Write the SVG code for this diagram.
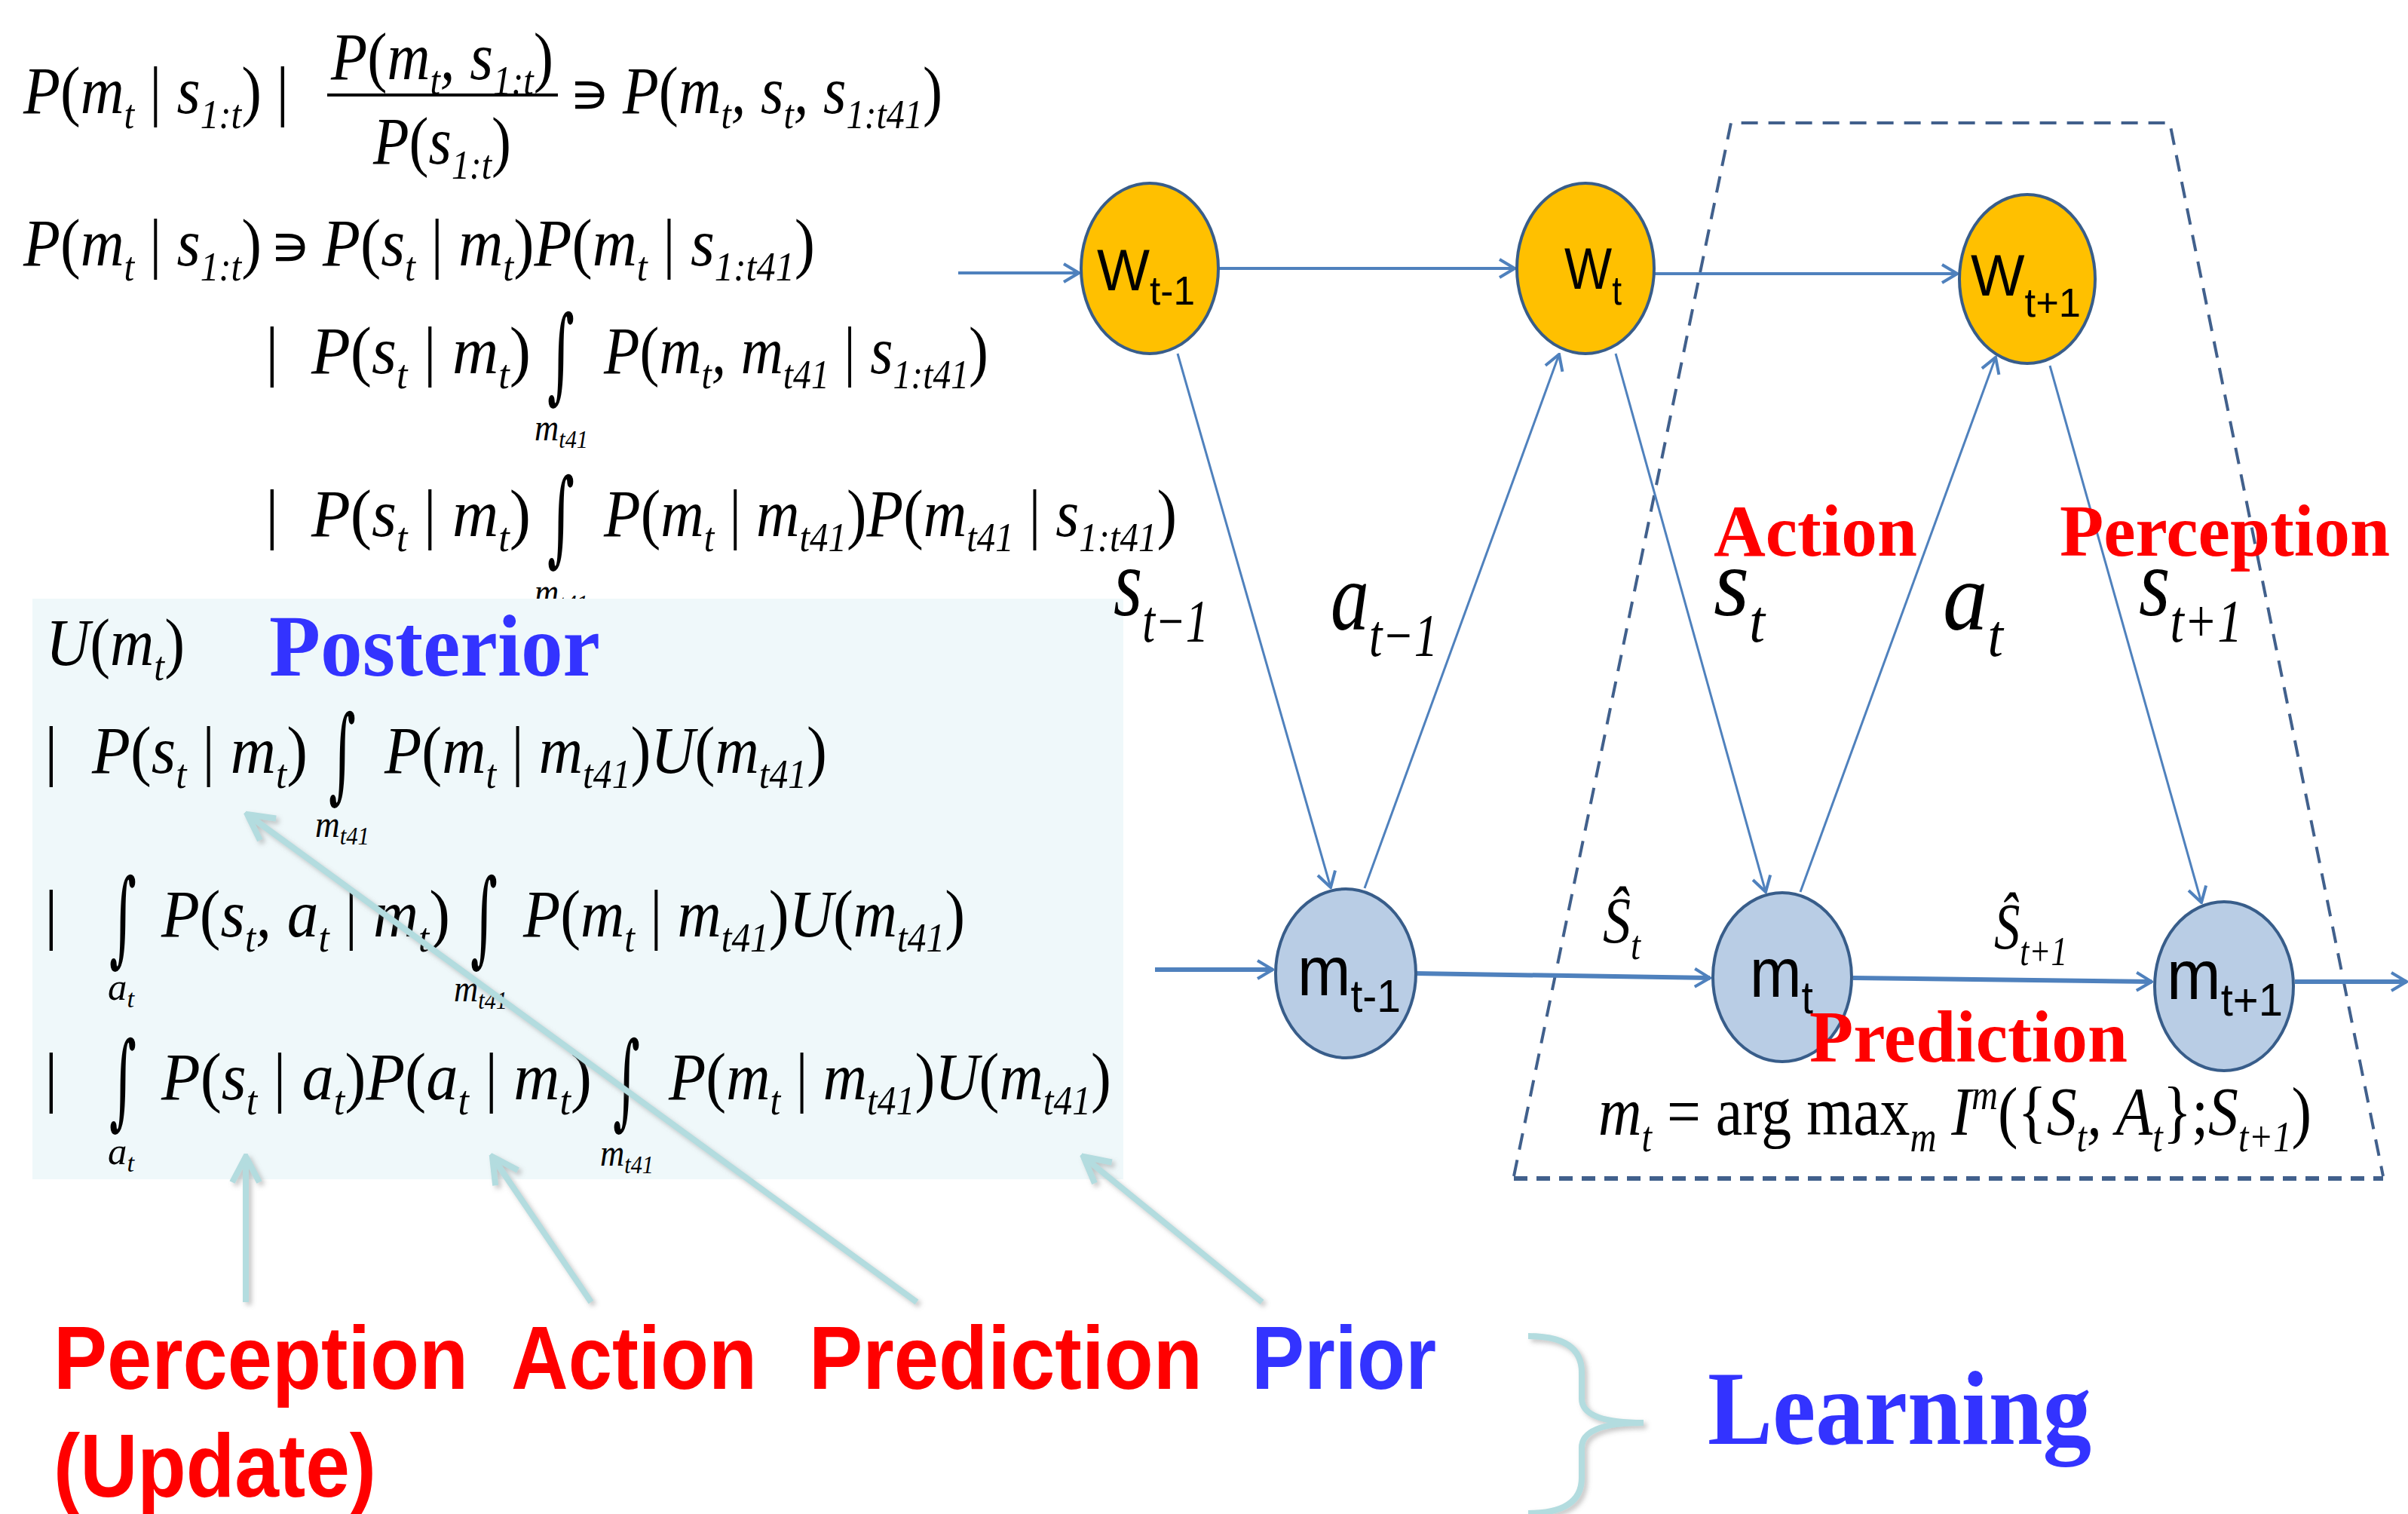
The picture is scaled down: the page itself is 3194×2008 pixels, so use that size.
<svg xmlns="http://www.w3.org/2000/svg" width="3194" height="2008" viewBox="0 0 3194 2008">
<style>
.eq{font-family:"Liberation Serif","Times New Roman",serif;font-style:italic;font-size:88px;fill:#000}
.eu{font-family:"Liberation Serif","Times New Roman",serif;font-size:88px;fill:#000}
.sb{font-size:54px}
.s2{font-size:50px}
.s3{font-size:34px}
.sym{font-family:"DejaVu Sans",sans-serif;font-size:76px;fill:#000}
.int{font-family:"DejaVu Serif",serif;font-size:138px;fill:#000}
.nt{font-family:"Liberation Sans",Arial,sans-serif;font-size:78px;fill:#000}
.ns{font-size:54px}
.mt{font-family:"Liberation Sans",Arial,sans-serif;font-size:92px;fill:#000}
.ms{font-size:62px}
.gl{font-family:"Liberation Serif","Times New Roman",serif;font-style:italic;font-size:130px;fill:#000}
.gs{font-size:80px}
.hl{font-family:"Liberation Serif","Times New Roman",serif;font-style:italic;font-size:86px;fill:#000}
.hs{font-size:54px}
.fm{font-family:"Liberation Serif","Times New Roman",serif;font-style:italic;font-size:92px;fill:#000}
.fs{font-size:56px}
.up{font-style:normal}
.red{font-family:"Liberation Serif","Times New Roman",serif;font-weight:bold;font-size:98px;fill:#FF0000}
.bl{font-family:"Liberation Sans",Arial,sans-serif;font-weight:bold;font-size:118px}
.blue{font-family:"Liberation Serif","Times New Roman",serif;font-weight:bold;fill:#3333FF}
.wn{fill:#FFC000;stroke:#385D8A;stroke-width:4}
.mn{fill:#B9CDE5;stroke:#385D8A;stroke-width:4}
.thin{stroke:#4F81BD;stroke-width:3;fill:none}
.mid{stroke:#4F81BD;stroke-width:4;fill:none}
.thick{stroke:#4F81BD;stroke-width:6;fill:none}
.teal{stroke:#B3DCDF;stroke-width:8;fill:none}
.dash{stroke:#41608C;stroke-width:4;fill:none;stroke-dasharray:22 14}
</style>
<defs>
<marker id="ab" viewBox="0 0 24 28" refX="22" refY="14" markerWidth="24" markerHeight="28" markerUnits="userSpaceOnUse" orient="auto">
<path d="M2,2 L22,14 L2,26" fill="none" stroke="#4F81BD" stroke-width="4"/>
</marker>
<marker id="at" viewBox="0 0 44 44" refX="40" refY="22" markerWidth="44" markerHeight="44" markerUnits="userSpaceOnUse" orient="auto">
<path d="M6,4 L40,22 L6,40" fill="none" stroke="#B3DCDF" stroke-width="8"/>
</marker>
<filter id="sh" x="-20%" y="-20%" width="140%" height="140%">
<feDropShadow dx="4" dy="4" stdDeviation="3" flood-color="#808080" flood-opacity="0.45"/>
</filter>
</defs>
<rect width="3194" height="2008" fill="#FFFFFF"/>

<g id="equations-top">
<text class="eq" x="31" y="150" textLength="316" lengthAdjust="spacingAndGlyphs">P<tspan class="up">(</tspan>m<tspan class="sb" dy="20">t</tspan><tspan dy="-20" class="up"> | </tspan>s<tspan class="sb" dy="20">1:t</tspan><tspan dy="-20" class="up">)</tspan></text>
<text class="eu" x="366" y="150">|</text>
<text class="eq" x="439" y="105" textLength="295" lengthAdjust="spacingAndGlyphs">P<tspan class="up">(</tspan>m<tspan class="sb" dy="20">t</tspan><tspan dy="-20">, s</tspan><tspan class="sb" dy="20">1:t</tspan><tspan dy="-20" class="up">)</tspan></text>
<line x1="434" y1="126" x2="740" y2="126" stroke="#000" stroke-width="4"/>
<text class="eq" x="495" y="217" textLength="183" lengthAdjust="spacingAndGlyphs">P<tspan class="up">(</tspan>s<tspan class="sb" dy="20">1:t</tspan><tspan dy="-20" class="up">)</tspan></text>
<text class="sym" x="755" y="150">∍</text>
<text class="eq" x="826" y="150" textLength="424" lengthAdjust="spacingAndGlyphs">P<tspan class="up">(</tspan>m<tspan class="sb" dy="20">t</tspan><tspan dy="-20">, s</tspan><tspan class="sb" dy="20">t</tspan><tspan dy="-20">, s</tspan><tspan class="sb" dy="20">1:t41</tspan><tspan dy="-20" class="up">)</tspan></text>

<text class="eq" x="31" y="352" textLength="316" lengthAdjust="spacingAndGlyphs">P<tspan class="up">(</tspan>m<tspan class="sb" dy="20">t</tspan><tspan dy="-20" class="up"> | </tspan>s<tspan class="sb" dy="20">1:t</tspan><tspan dy="-20" class="up">)</tspan></text>
<text class="sym" x="358" y="352">∍</text>
<text class="eq" x="428" y="352" textLength="653" lengthAdjust="spacingAndGlyphs">P<tspan class="up">(</tspan>s<tspan class="sb" dy="20">t</tspan><tspan dy="-20" class="up"> | </tspan>m<tspan class="sb" dy="20">t</tspan><tspan dy="-20" class="up">)</tspan>P<tspan class="up">(</tspan>m<tspan class="sb" dy="20">t</tspan><tspan dy="-20" class="up"> | </tspan>s<tspan class="sb" dy="20">1:t41</tspan><tspan dy="-20" class="up">)</tspan></text>

<text class="eu" x="352" y="495">|</text>
<text class="eq" x="413" y="495" textLength="291" lengthAdjust="spacingAndGlyphs">P<tspan class="up">(</tspan>s<tspan class="sb" dy="20">t</tspan><tspan dy="-20" class="up"> | </tspan>m<tspan class="sb" dy="20">t</tspan><tspan dy="-20" class="up">)</tspan></text>
<text class="int" transform="translate(726,517) scale(0.5,1)">∫</text>
<text class="eq s2" x="709" y="584" textLength="71" lengthAdjust="spacingAndGlyphs">m<tspan class="s3" dy="10">t41</tspan></text>
<text class="eq" x="801" y="495" textLength="510" lengthAdjust="spacingAndGlyphs">P<tspan class="up">(</tspan>m<tspan class="sb" dy="20">t</tspan><tspan dy="-20">, m</tspan><tspan class="sb" dy="20">t41</tspan><tspan dy="-20" class="up"> | </tspan>s<tspan class="sb" dy="20">1:t41</tspan><tspan dy="-20" class="up">)</tspan></text>

<text class="eu" x="352" y="711">|</text>
<text class="eq" x="413" y="711" textLength="291" lengthAdjust="spacingAndGlyphs">P<tspan class="up">(</tspan>s<tspan class="sb" dy="20">t</tspan><tspan dy="-20" class="up"> | </tspan>m<tspan class="sb" dy="20">t</tspan><tspan dy="-20" class="up">)</tspan></text>
<text class="int" transform="translate(726,733) scale(0.5,1)">∫</text>
<text class="eq s2" x="709" y="802" textLength="71" lengthAdjust="spacingAndGlyphs">m<tspan class="s3" dy="10">t41</tspan></text>
<text class="eq" x="801" y="711" textLength="760" lengthAdjust="spacingAndGlyphs">P<tspan class="up">(</tspan>m<tspan class="sb" dy="20">t</tspan><tspan dy="-20" class="up"> | </tspan>m<tspan class="sb" dy="20">t41</tspan><tspan dy="-20" class="up">)</tspan>P<tspan class="up">(</tspan>m<tspan class="sb" dy="20">t41</tspan><tspan dy="-20" class="up"> | </tspan>s<tspan class="sb" dy="20">1:t41</tspan><tspan dy="-20" class="up">)</tspan></text>
</g>

<g id="posterior-box">
<rect x="43" y="794" width="1447" height="770" fill="#EFF8FA"/>
<text class="eq" x="61" y="882" textLength="184" lengthAdjust="spacingAndGlyphs">U<tspan class="up">(</tspan>m<tspan class="sb" dy="20">t</tspan><tspan dy="-20" class="up">)</tspan></text>
<text class="blue" x="357" y="896" font-size="116" textLength="439" lengthAdjust="spacingAndGlyphs">Posterior</text>

<text class="eu" x="59" y="1025">|</text>
<text class="eq" x="122" y="1025" textLength="286" lengthAdjust="spacingAndGlyphs">P<tspan class="up">(</tspan>s<tspan class="sb" dy="20">t</tspan><tspan dy="-20" class="up"> | </tspan>m<tspan class="sb" dy="20">t</tspan><tspan dy="-20" class="up">)</tspan></text>
<text class="int" transform="translate(436,1047) scale(0.5,1)">∫</text>
<text class="eq s2" x="418" y="1110" textLength="72" lengthAdjust="spacingAndGlyphs">m<tspan class="s3" dy="10">t41</tspan></text>
<text class="eq" x="510" y="1025" textLength="587" lengthAdjust="spacingAndGlyphs">P<tspan class="up">(</tspan>m<tspan class="sb" dy="20">t</tspan><tspan dy="-20" class="up"> | </tspan>m<tspan class="sb" dy="20">t41</tspan><tspan dy="-20" class="up">)</tspan>U<tspan class="up">(</tspan>m<tspan class="sb" dy="20">t41</tspan><tspan dy="-20" class="up">)</tspan></text>

<text class="eu" x="59" y="1242">|</text>
<text class="int" transform="translate(145,1264) scale(0.5,1)">∫</text>
<text class="eq s2" x="143" y="1326" textLength="35" lengthAdjust="spacingAndGlyphs">a<tspan class="s3" dy="10">t</tspan></text>
<text class="eq" x="214" y="1242" textLength="383" lengthAdjust="spacingAndGlyphs">P<tspan class="up">(</tspan>s<tspan class="sb" dy="20">t</tspan><tspan dy="-20">, a</tspan><tspan class="sb" dy="20">t</tspan><tspan dy="-20" class="up"> | </tspan>m<tspan class="sb" dy="20">t</tspan><tspan dy="-20" class="up">)</tspan></text>
<text class="int" transform="translate(624,1264) scale(0.5,1)">∫</text>
<text class="eq s2" x="602" y="1328" textLength="71" lengthAdjust="spacingAndGlyphs">m<tspan class="s3" dy="10">t41</tspan></text>
<text class="eq" x="694" y="1242" textLength="586" lengthAdjust="spacingAndGlyphs">P<tspan class="up">(</tspan>m<tspan class="sb" dy="20">t</tspan><tspan dy="-20" class="up"> | </tspan>m<tspan class="sb" dy="20">t41</tspan><tspan dy="-20" class="up">)</tspan>U<tspan class="up">(</tspan>m<tspan class="sb" dy="20">t41</tspan><tspan dy="-20" class="up">)</tspan></text>

<text class="eu" x="59" y="1458">|</text>
<text class="int" transform="translate(145,1480) scale(0.5,1)">∫</text>
<text class="eq s2" x="143" y="1544" textLength="35" lengthAdjust="spacingAndGlyphs">a<tspan class="s3" dy="10">t</tspan></text>
<text class="eq" x="214" y="1458" textLength="571" lengthAdjust="spacingAndGlyphs">P<tspan class="up">(</tspan>s<tspan class="sb" dy="20">t</tspan><tspan dy="-20" class="up"> | </tspan>a<tspan class="sb" dy="20">t</tspan><tspan dy="-20" class="up">)</tspan>P<tspan class="up">(</tspan>a<tspan class="sb" dy="20">t</tspan><tspan dy="-20" class="up"> | </tspan>m<tspan class="sb" dy="20">t</tspan><tspan dy="-20" class="up">)</tspan></text>
<text class="int" transform="translate(813,1480) scale(0.5,1)">∫</text>
<text class="eq s2" x="796" y="1546" textLength="71" lengthAdjust="spacingAndGlyphs">m<tspan class="s3" dy="10">t41</tspan></text>
<text class="eq" x="887" y="1458" textLength="587" lengthAdjust="spacingAndGlyphs">P<tspan class="up">(</tspan>m<tspan class="sb" dy="20">t</tspan><tspan dy="-20" class="up"> | </tspan>m<tspan class="sb" dy="20">t41</tspan><tspan dy="-20" class="up">)</tspan>U<tspan class="up">(</tspan>m<tspan class="sb" dy="20">t41</tspan><tspan dy="-20" class="up">)</tspan></text>
</g>

<g id="dashed-region">
<path class="dash" d="M2008,1560 L2296,163 L2878,163 L3161,1560"/>
<line x1="2008" y1="1563" x2="3161" y2="1563" stroke="#41608C" stroke-width="6" stroke-dasharray="18 12"/>
</g>

<g id="connectors">
<line class="mid" x1="1271" y1="362" x2="1431" y2="362" marker-end="url(#ab)"/>
<line class="mid" x1="1616" y1="356" x2="2009" y2="356" marker-end="url(#ab)"/>
<line class="mid" x1="2195" y1="363" x2="2596" y2="363" marker-end="url(#ab)"/>
<line class="thin" x1="1562" y1="469" x2="1765" y2="1177" marker-end="url(#ab)"/>
<line class="thin" x1="1810" y1="1178" x2="2068" y2="470" marker-end="url(#ab)"/>
<line class="thin" x1="2143" y1="469" x2="2342" y2="1183" marker-end="url(#ab)"/>
<line class="thin" x1="2388" y1="1183" x2="2647" y2="474" marker-end="url(#ab)"/>
<line class="thin" x1="2719" y1="485" x2="2920" y2="1197" marker-end="url(#ab)"/>
<line class="thick" x1="1532" y1="1286" x2="1688" y2="1286" marker-end="url(#ab)"/>
<line class="thick" x1="1878" y1="1291" x2="2268" y2="1297" marker-end="url(#ab)"/>
<line class="thick" x1="2458" y1="1297" x2="2854" y2="1302" marker-end="url(#ab)"/>
<line class="thick" x1="3044" y1="1302" x2="3192" y2="1302" marker-end="url(#ab)"/>
<g filter="url(#sh)">
<line class="teal" x1="326" y1="1727" x2="326" y2="1534" marker-end="url(#at)"/>
<line class="teal" x1="784" y1="1727" x2="653" y2="1534" marker-end="url(#at)"/>
<line class="teal" x1="1216" y1="1727" x2="328" y2="1080" marker-end="url(#at)"/>
<line class="teal" x1="1674" y1="1727" x2="1437" y2="1534" marker-end="url(#at)"/>
<path class="teal" stroke-width="10" d="M2027,1772 Q2098,1772 2098,1820 L2098,1855 Q2098,1887 2180,1887 Q2098,1887 2098,1920 L2098,1960 Q2098,2007 2027,2007"/>
</g>
</g>

<g id="node-w-tm1">
<ellipse class="wn" cx="1525" cy="356" rx="91" ry="113"/>
<text class="nt" x="1455" y="385" textLength="130" lengthAdjust="spacingAndGlyphs">W<tspan class="ns" dy="19">t-1</tspan></text>
</g>
<g id="node-w-t">
<ellipse class="wn" cx="2103" cy="356" rx="91" ry="113"/>
<text class="nt" x="2075" y="383" textLength="76" lengthAdjust="spacingAndGlyphs">W<tspan class="ns" dy="21">t</tspan></text>
</g>
<g id="node-w-tp1">
<ellipse class="wn" cx="2689" cy="370" rx="90" ry="112"/>
<text class="nt" x="2614" y="392" textLength="146" lengthAdjust="spacingAndGlyphs">W<tspan class="ns" dy="28">t+1</tspan></text>
</g>
<g id="node-m-tm1">
<ellipse class="mn" cx="1785" cy="1291" rx="93" ry="112"/>
<text class="mt" x="1721" y="1320" textLength="137" lengthAdjust="spacingAndGlyphs">m<tspan class="ms" dy="22">t-1</tspan></text>
</g>
<g id="node-m-t">
<ellipse class="mn" cx="2364" cy="1296" rx="92" ry="112"/>
<text class="mt" x="2321" y="1322" textLength="84" lengthAdjust="spacingAndGlyphs">m<tspan class="ms" dy="22">t</tspan></text>
</g>
<g id="node-m-tp1">
<ellipse class="mn" cx="2950" cy="1308" rx="92" ry="112"/>
<text class="mt" x="2874" y="1325" textLength="154" lengthAdjust="spacingAndGlyphs">m<tspan class="ms" dy="22">t+1</tspan></text>
</g>

<g id="graph-labels">
<text class="gl" x="1477" y="816" textLength="126" lengthAdjust="spacingAndGlyphs">s<tspan class="gs" dy="35">t−1</tspan></text>
<text class="gl" x="1765" y="835" textLength="142" lengthAdjust="spacingAndGlyphs">a<tspan class="gs" dy="35">t−1</tspan></text>
<text class="gl" x="2273" y="816" textLength="68" lengthAdjust="spacingAndGlyphs">s<tspan class="gs" dy="35">t</tspan></text>
<text class="gl" x="2577" y="835" textLength="80" lengthAdjust="spacingAndGlyphs">a<tspan class="gs" dy="35">t</tspan></text>
<text class="gl" x="2837" y="816" textLength="137" lengthAdjust="spacingAndGlyphs">s<tspan class="gs" dy="35">t+1</tspan></text>
<text class="red" x="2273" y="737" textLength="270" lengthAdjust="spacingAndGlyphs">Action</text>
<text class="red" x="2732" y="737" textLength="438" lengthAdjust="spacingAndGlyphs">Perception</text>
<text class="hl" x="2126" y="1250" textLength="50" lengthAdjust="spacingAndGlyphs">Ŝ<tspan class="hs" dy="22">t</tspan></text>
<text class="hl" x="2645" y="1258" textLength="97" lengthAdjust="spacingAndGlyphs">Ŝ<tspan class="hs" dy="22">t+1</tspan></text>
<text class="red" x="2400" y="1408" textLength="422" lengthAdjust="spacingAndGlyphs">Prediction</text>
<text class="fm" x="2120" y="1505" textLength="946" lengthAdjust="spacingAndGlyphs">m<tspan class="fs" dy="22">t</tspan><tspan dy="-22" class="up"> = arg max</tspan><tspan class="fs" dy="22">m</tspan><tspan dy="-22"> I</tspan><tspan class="fs" dy="-34">m</tspan><tspan dy="34" class="up">({</tspan>S<tspan class="fs" dy="22">t</tspan><tspan dy="-22">, A</tspan><tspan class="fs" dy="22">t</tspan><tspan dy="-22" class="up">};</tspan>S<tspan class="fs" dy="22">t+1</tspan><tspan dy="-22" class="up">)</tspan></text>
</g>

<g id="bottom-labels">
<text class="bl" x="71" y="1842" fill="#FF0000" textLength="550" lengthAdjust="spacingAndGlyphs">Perception</text>
<text class="bl" x="71" y="1985" fill="#FF0000" textLength="428" lengthAdjust="spacingAndGlyphs">(Update)</text>
<text class="bl" x="678" y="1842" fill="#FF0000" textLength="326" lengthAdjust="spacingAndGlyphs">Action</text>
<text class="bl" x="1073" y="1842" fill="#FF0000" textLength="522" lengthAdjust="spacingAndGlyphs">Prediction</text>
<text class="bl" x="1660" y="1842" fill="#3333FF" textLength="245" lengthAdjust="spacingAndGlyphs">Prior</text>
<text class="blue" x="2265" y="1915" font-size="140" textLength="509" lengthAdjust="spacingAndGlyphs">Learning</text>
</g>
</svg>
